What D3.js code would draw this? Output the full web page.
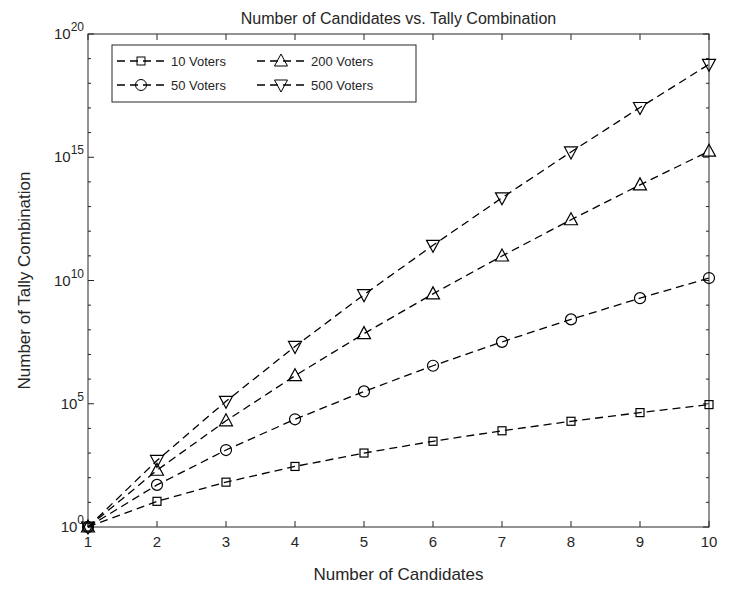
<!DOCTYPE html><html><head><script src="https://cdn.jsdelivr.net/npm/d3@7"></script>
<style>body{margin:0;background:#fff}text{font-family:"Liberation Sans",Arial,sans-serif;fill:#262626}</style></head><body>
<svg id="c" width="734" height="596"></svg>
<script>
const candidates=[1,2,3,4,5,6,7,8,9,10];
const voters10=[1,11,66,286,1001,3003,8008,19448,43758,92378];
const voters50=[1,51,1326,23426,316251,3478761,32468436,264385836,1916797311,12565671261];
const voters200=[1,201,20301,1373701,70058751,2872408791,98619368491,2.9163e12,7.5824e13,1.7608e15];
const voters500=[1,501,125751,21084251,2656615626,2.6832e11,2.2628e13,1.6389e15,1.0407e17,5.886e18];
const seriesNames=["10 Voters","50 Voters","200 Voters","500 Voters"];
const yTicks=[0,5,10,15,20];
const series=[voters10,voters50,voters200,voters500];
const shapes=["square","circle","up","down"];
const svg=d3.select("#c");
const L=88,R=709,T=34,B=527;
const x=d3.scaleLinear().domain([1,10]).range([L,R]);
const y=d3.scaleLog().domain([1,1e20]).range([B,T]);
svg.append("rect").attr("x",L).attr("y",T).attr("width",R-L).attr("height",B-T).attr("fill","#fff").attr("stroke","#262626");
const g=svg.append("g");
candidates.forEach(c=>{g.append("line").attr("x1",x(c)).attr("x2",x(c)).attr("y1",B).attr("y2",B-6).attr("stroke","#262626");
 g.append("line").attr("x1",x(c)).attr("x2",x(c)).attr("y1",T).attr("y2",T+6).attr("stroke","#262626");
 g.append("text").attr("x",x(c)).attr("y",B+20).attr("text-anchor","middle").attr("font-size",15).text(c);});
d3.range(0,21).forEach(e=>{const v=Math.pow(10,e),len=e%5===0?6:3;
 g.append("line").attr("x1",L).attr("x2",L+len).attr("y1",y(v)).attr("y2",y(v)).attr("stroke","#262626");
 g.append("line").attr("x1",R).attr("x2",R-len).attr("y1",y(v)).attr("y2",y(v)).attr("stroke","#262626");});
yTicks.forEach(e=>{const v=Math.pow(10,e);
 const t=g.append("text").attr("x",L-4).attr("y",y(v)+5).attr("text-anchor","end").attr("font-size",15);
 t.append("tspan").text("10");t.append("tspan").attr("dy",-8).attr("font-size",12).text(e);});
function marker(sel,s,cx,cy){
 if(s==="square")sel.append("rect").attr("x",cx-4).attr("y",cy-4).attr("width",8).attr("height",8);
 else if(s==="circle")sel.append("circle").attr("cx",cx).attr("cy",cy).attr("r",5.5);
 else if(s==="up")sel.append("path").attr("d",`M${cx},${cy-7}L${cx+6.5},${cy+5}L${cx-6.5},${cy+5}Z`);
 else sel.append("path").attr("d",`M${cx},${cy+7}L${cx+6.5},${cy-5}L${cx-6.5},${cy-5}Z`);}
const line=d3.line().x((d,i)=>x(candidates[i])).y(d=>y(d));
series.forEach((s,k)=>{
 svg.append("path").attr("d",line(s)).attr("fill","none").attr("stroke","#000").attr("stroke-width",1.3).attr("stroke-dasharray","8,5");
 const mg=svg.append("g").attr("fill","none").attr("stroke","#000").attr("stroke-width",1.2);
 s.forEach((v,i)=>marker(mg,shapes[k],x(candidates[i]),y(v)));});
const lg=svg.append("g");
lg.append("rect").attr("x",112).attr("y",45).attr("width",304).attr("height",57).attr("fill","#fff").attr("stroke","#262626");
seriesNames.forEach((n,k)=>{const col=k<2?0:1,row=k%2;const lx=117+col*140,ly=61+row*24;
 lg.append("line").attr("x1",lx).attr("x2",lx+48).attr("y1",ly).attr("y2",ly).attr("stroke","#000").attr("stroke-width",1.3).attr("stroke-dasharray","8,5");
 marker(lg.append("g").attr("fill","none").attr("stroke","#000"),shapes[k],lx+24,ly);
 lg.append("text").attr("x",lx+54).attr("y",ly+5).attr("font-size",13).text(n);});
svg.append("text").attr("x",(L+R)/2).attr("y",24).attr("text-anchor","middle").attr("font-size",16).text("Number of Candidates vs. Tally Combination");
svg.append("text").attr("x",(L+R)/2).attr("y",580).attr("text-anchor","middle").attr("font-size",17).text("Number of Candidates");
svg.append("text").attr("transform",`translate(30,${(T+B)/2}) rotate(-90)`).attr("text-anchor","middle").attr("font-size",17).text("Number of Tally Combination");
</script></body></html>
